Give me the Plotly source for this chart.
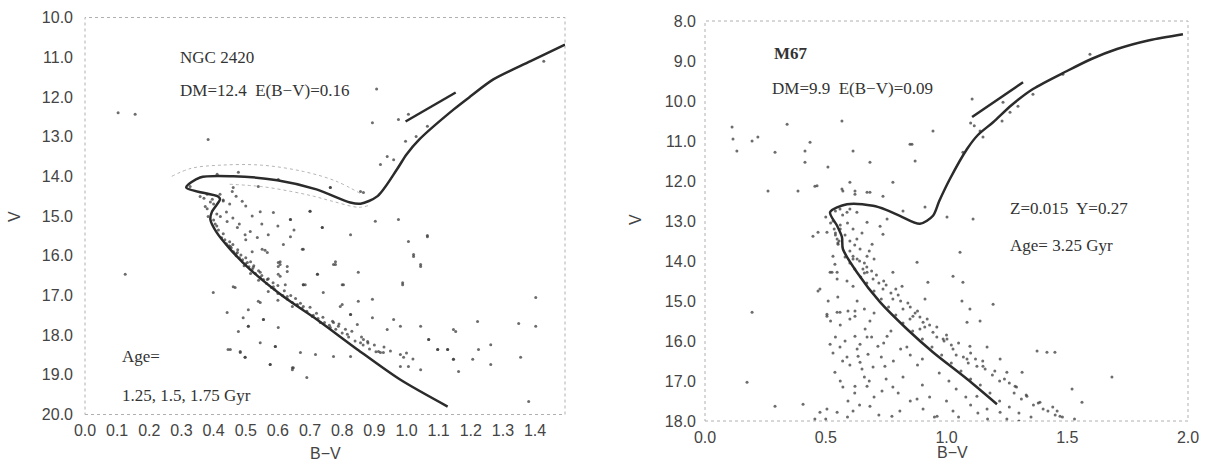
import plotly.graph_objects as go

# ---------------- NGC 2420 ----------------
n_iso_bv = [1.128, 0.98, 0.847, 0.72, 0.617, 0.514, 0.452, 0.41, 0.39, 0.395, 0.42, 0.414,
            0.315, 0.358, 0.461, 0.598, 0.72, 0.825, 0.857, 0.91, 0.97, 1.0, 1.04, 1.146, 1.2, 1.27,
            1.386, 1.493]
n_iso_v = [19.8, 19.12, 18.36, 17.6, 17.03, 16.35, 15.84, 15.42, 15.09, 14.89, 14.58, 14.51,
           14.28, 14.03, 14.0, 14.1, 14.33, 14.66, 14.69, 14.5, 13.83, 13.45, 13.07, 12.32, 11.98, 11.56,
           11.1, 10.68]
n_clump_bv = [0.997, 1.153]
n_clump_v = [12.62, 11.89]
n_up_bv = [0.27, 0.33, 0.42, 0.55, 0.68, 0.78, 0.86]
n_up_v = [14.0, 13.8, 13.72, 13.72, 13.88, 14.12, 14.45]
n_lo_bv = [0.45, 0.55, 0.64, 0.71, 0.77, 0.85, 0.88]
n_lo_v = [14.2, 14.26, 14.38, 14.5, 14.63, 14.78, 14.74]

n_star_bv = [0.103, 0.156, 0.383, 0.907, 0.894, 0.975, 1.006, 1.065, 0.997, 1.03, 0.94, 0.919, 0.96,
             0.763, 0.857, 0.866, 0.70, 0.639, 0.738, 0.903, 0.975, 1.065, 1.427, 0.125,
             0.826, 1.006, 1.065, 1.022, 1.044, 0.988, 0.676, 0.773, 0.85, 0.80, 0.685, 0.741, 0.679,
             0.85, 0.894, 0.794, 0.826, 0.847, 0.773, 0.894, 0.96, 0.94, 0.981, 1.044, 1.069, 0.879,
             0.919, 0.981, 0.991, 1.006, 1.044, 0.981, 1.097, 1.128, 1.146, 1.146, 1.162, 1.206, 1.224,
             1.221, 1.262, 1.262, 1.355, 1.349, 1.402, 1.402, 1.38, 0.67, 0.69, 0.717, 0.648, 0.773, 0.826,
             0.629, 0.66, 0.707, 0.732, 0.763, 0.788, 0.816, 0.857, 0.866, 0.913, 0.928,
             0.399, 0.442, 0.452, 0.477, 0.498, 0.483, 0.545, 0.576, 0.592, 0.555, 0.508, 0.601, 0.645,
             0.601, 0.629, 0.679, 0.601, 0.723, 0.779, 0.80, 0.826, 1.022, 1.044, 0.988, 1.153, 1.097,
             1.128, 1.146, 1.069, 0.467, 0.508, 0.492, 0.555, 0.508, 0.445, 0.483, 0.498, 0.545, 0.592,
             0.576, 0.645, 0.607, 0.539, 0.623, 0.645, 0.52, 0.567,
             0.374, 0.38, 0.383, 0.421, 0.442, 0.461, 0.458, 0.489, 0.545, 0.586, 0.639, 0.70, 0.474,
             0.514, 0.498, 0.536, 0.57, 0.551, 0.56, 0.617, 0.639, 0.679, 0.607, 0.601, 0.629, 0.607,
             0.679, 0.723, 0.779, 0.804, 0.461, 0.738, 0.411, 0.477, 0.601, 0.763, 0.539, 0.327, 0.396,
             0.358, 0.452, 0.474, 0.505, 0.523, 0.545, 0.567, 0.586,
             0.425, 0.44, 0.455, 0.462, 0.47, 0.48, 0.49, 0.50, 0.51, 0.52, 0.53, 0.545, 0.555, 0.565,
             0.58, 0.59, 0.60, 0.615, 0.63, 0.645, 0.66, 0.675, 0.69, 0.71, 0.725, 0.745, 0.76, 0.78,
             0.80, 0.82, 0.84, 0.865, 0.885, 0.905, 0.435, 0.448, 0.47, 0.495, 0.515, 0.54, 0.57, 0.6,
             0.39, 0.40, 0.43, 0.41, 0.405, 0.37, 0.38,
             0.40, 0.41, 0.415, 0.43, 0.45, 0.46, 0.475, 0.485, 0.50, 0.515, 0.525, 0.54, 0.55, 0.57,
             0.585, 0.60, 0.62, 0.64, 0.655, 0.67, 0.70, 0.72, 0.74, 0.77, 0.79, 0.81, 0.83, 0.86, 0.88,
             0.90, 0.93, 0.95, 1.0, 1.02,
             0.42, 0.43, 0.45, 0.47, 0.50, 0.52, 0.55, 0.44, 0.46, 0.48, 0.60, 0.65, 0.50]
n_star_v = [12.4, 12.44, 13.07, 11.8, 12.65, 12.57, 12.44, 12.74, 13.12, 13.0, 13.5, 13.7, 13.58,
            14.28, 14.38, 14.41, 14.88, 15.09, 15.29, 15.13, 15.09, 15.52, 11.1, 16.47,
            15.47, 15.64, 15.49, 15.97, 16.22, 16.73, 15.84, 16.22, 16.42, 16.73, 16.73, 16.93, 17.28,
            17.15, 17.1, 17.28, 17.48, 17.73, 17.68, 17.56, 17.61, 17.86, 17.78, 17.78, 18.11, 18.16,
            18.44, 18.49, 18.56, 18.79, 18.87, 18.79, 18.36, 18.36, 18.61, 17.86, 18.92, 18.61, 18.36,
            17.66, 18.74, 18.24, 18.56, 17.71, 17.78, 17.05, 19.67, 18.44, 19.07, 18.49, 18.82, 18.54, 18.54,
            17.03, 17.23, 17.53, 17.68, 17.81, 17.78, 17.98, 18.19, 18.11, 18.41, 18.44,
            16.93, 17.43, 18.36, 17.91, 18.56, 18.41, 17.18, 18.74, 18.29, 17.61, 17.78, 17.81, 18.82,
            16.17, 16.27, 16.73, 16.47, 16.47, 16.22, 17.23, 17.48, 16.02, 16.27, 16.68, 17.91, 18.36,
            18.36, 18.61, 18.11, 16.8, 17.36, 17.56, 17.61, 17.78, 18.36, 18.44, 18.56, 18.19, 18.29,
            18.74, 18.87, 16.22, 17.15, 16.73, 17.28, 15.9, 15.92,
            14.76, 14.82, 15.01, 15.01, 15.14, 14.28, 14.38, 14.63, 14.89, 14.91, 15.09, 14.88, 15.29,
            15.39, 15.47, 15.54, 15.47, 15.84, 15.86, 15.72, 15.52, 15.84, 16.15, 16.27, 16.4, 16.52,
            16.73, 16.47, 16.15, 16.73, 16.78, 15.29, 13.95, 13.9, 14.08, 14.28, 14.26, 14.26, 14.58,
            14.51, 15.77, 15.92, 16.17, 16.3, 16.42, 16.6, 16.78,
            15.55, 15.7, 15.8, 15.9, 15.95, 16.05, 16.1, 16.2, 16.28, 16.35, 16.45, 16.55, 16.6, 16.7,
            16.8, 16.85, 16.95, 17.0, 17.1, 17.18, 17.25, 17.33, 17.4, 17.5, 17.58, 17.68, 17.75, 17.85,
            17.95, 18.05, 18.15, 18.25, 18.35, 18.42, 15.6, 15.75, 16.0, 16.25, 16.45, 16.62, 16.9, 17.12,
            14.65, 14.7, 14.62, 14.95, 15.2, 14.55, 14.45,
            15.1, 15.25, 15.35, 15.45, 15.65, 15.72, 15.85, 15.98, 16.05, 16.15, 16.25, 16.38, 16.5, 16.58,
            16.68, 16.75, 16.88, 17.0, 17.08, 17.2, 17.3, 17.45, 17.55, 17.65, 17.72, 17.85, 17.9, 18.05, 18.2,
            18.25, 18.3, 18.4, 18.45, 18.6,
            14.45, 14.6, 14.7, 14.5, 14.75, 15.0, 15.2, 14.9, 15.05, 15.2, 15.25, 15.35, 15.6]

# ---------------- M67 ----------------
m_iso_bv = [1.209, 1.085, 0.944, 0.836, 0.725, 0.629, 0.571, 0.567, 0.547, 0.518, 0.588, 0.696,
            0.75, 0.807, 0.89, 0.944, 0.97, 1.014, 1.085, 1.13, 1.193, 1.27, 1.358, 1.499, 1.6, 1.706,
            1.84, 1.979]
m_iso_v = [17.58, 16.95, 16.28, 15.7, 15.03, 14.28, 13.7, 13.4, 13.12, 12.78, 12.58, 12.62,
           12.72, 12.87, 13.07, 12.87, 12.5, 11.95, 11.2, 10.85, 10.53, 10.1, 9.7, 9.25, 8.95, 8.7,
           8.48, 8.33]
m_clump_bv = [1.106, 1.317]
m_clump_v = [10.4, 9.53]

m_star_bv = [0.112, 0.116, 0.132, 0.195, 0.219, 0.29, 0.34, 0.435, 0.414, 0.414, 0.567, 0.613, 0.683,
             0.509, 0.261, 0.385, 0.464, 0.567, 0.60, 0.621, 0.671, 0.737, 0.778, 0.82, 0.754, 0.849,
             1.106, 0.944, 0.857, 0.87, 0.911, 1.002, 1.11, 1.139, 1.151, 1.234, 1.296, 1.263, 1.23,
             1.358, 1.594, 1.482, 1.068, 1.10, 1.115,
             0.174, 0.29, 0.406, 0.195, 0.455, 0.476, 0.505, 0.547, 0.468, 0.447, 0.518, 0.547, 0.588,
             0.505, 0.559, 0.621, 0.518, 0.559, 0.588, 0.538, 0.571, 0.621, 0.592, 0.613, 0.65, 0.634,
             0.675, 0.642, 0.671, 0.696, 0.745, 0.733, 0.778, 0.716, 0.754, 0.671, 0.663, 0.683, 0.642,
             0.621, 0.683, 0.774, 0.807, 0.737, 0.778, 0.816, 0.836,
             0.613, 0.654, 0.696, 0.737, 0.778, 0.82, 0.861, 0.903, 0.944, 0.986, 1.027, 1.085, 1.126,
             0.63, 0.67, 0.71, 0.75, 0.80, 0.84, 0.88, 0.92, 0.96, 1.0, 1.05, 1.10, 1.15, 1.20, 1.24,
             1.29, 1.33, 1.38, 1.42, 1.45,
             0.58, 0.60, 0.62, 0.645, 0.67, 0.70, 0.73, 0.76, 0.79, 0.82, 0.86, 0.90, 0.94, 0.98, 1.02,
             1.06, 1.10, 1.14, 1.18, 1.22, 1.26, 1.30, 1.35,
             0.849, 0.89, 1.027, 1.068, 1.193, 1.002, 1.097, 1.151, 1.222, 1.25, 1.284, 1.313, 1.333,
             1.375, 1.416, 1.449, 1.387, 1.458, 1.47, 1.52, 1.561, 1.685, 1.126, 1.168, 1.222, 1.027,
             0.961, 0.878, 0.903, 1.056, 0.878, 0.923, 0.911, 1.064, 1.097, 1.139, 1.168, 1.085,
             0.505, 0.468, 0.547, 0.551, 0.613, 0.629, 0.642, 0.671, 0.613, 0.588, 0.60, 0.629, 0.559,
             0.53, 0.538, 0.526, 0.547, 0.571, 0.621, 0.683, 0.671, 0.725, 0.692, 0.671, 0.613, 0.455,
             0.476, 0.505, 0.547, 0.592, 0.621, 0.53, 0.535, 0.56, 0.55, 0.54,
             0.52, 0.56, 0.60, 0.54, 0.58, 0.63, 0.57, 0.60, 0.66, 0.56, 0.62, 0.70, 0.68, 0.73, 0.75,
             0.78, 0.80, 0.82, 0.85, 0.88, 0.90, 0.93, 0.95, 1.0, 1.05, 1.10, 0.72, 0.64, 0.59, 0.50,
             0.53, 0.51, 0.55, 0.63, 0.66, 0.70, 0.69, 0.74, 0.77, 0.81, 0.85, 0.90, 0.97, 1.01, 1.04,
             1.08, 1.13, 1.17, 1.25, 1.30,
             0.60, 0.64, 0.66, 0.69, 0.72, 0.74, 0.77, 0.79, 0.81, 0.85, 0.87, 0.89, 0.91, 0.93, 0.96,
             0.99, 1.02, 1.04, 1.07, 1.09, 1.12, 1.16, 1.19, 1.22, 1.26, 1.28, 1.31, 1.36, 1.40, 1.44,
             1.48, 1.53,
             0.50, 0.52, 0.54, 0.555, 0.56, 0.58, 0.60, 0.62, 0.59, 0.57, 0.54, 0.65, 0.68, 0.70, 0.66]
m_star_v = [10.65, 10.95, 11.25, 11.0, 10.9, 11.28, 10.58, 11.03, 11.25, 11.53, 10.5, 11.25, 11.53,
            11.65, 12.25, 12.25, 12.12, 12.2, 12.03, 12.25, 12.28, 12.38, 12.03, 12.75, 12.95, 11.08,
            9.95, 10.75, 11.08, 11.5, 12.65, 12.9, 12.95, 10.75, 10.9, 10.03, 10.13, 10.28, 10.5,
            9.83, 8.83, 9.33, 11.28, 10.55, 10.62,
            17.03, 17.63, 17.58, 15.28, 17.95, 17.78, 17.7, 17.78, 14.75, 13.38, 14.28, 14.28, 14.5,
            15.33, 15.28, 15.25, 16.08, 16.15, 16.4, 16.78, 17.15, 17.13, 17.5, 17.75, 16.7, 16.38,
            16.33, 16.53, 17.13, 16.65, 16.63, 17.25, 17.15, 16.13, 15.88, 15.9, 15.7, 15.5, 16.08,
            15.88, 17.63, 17.88, 17.75, 13.33, 14.28, 14.63, 16.15,
            13.88, 14.2, 14.45, 14.7, 14.95, 15.2, 15.38, 15.53, 15.78, 15.95, 16.2, 16.45, 16.63,
            13.95, 14.15, 14.35, 14.6, 14.85, 15.05, 15.25, 15.45, 15.65, 15.85, 16.05, 16.3, 16.5,
            16.75, 16.95, 17.15, 17.35, 17.55, 17.75, 17.85,
            13.9, 14.05, 14.2, 14.4, 14.55, 14.75, 14.95, 15.15, 15.35, 15.55, 15.75, 15.95, 16.15,
            16.35, 16.55, 16.75, 16.95, 17.1, 17.3, 17.5, 17.65, 17.8, 17.9,
            15.45, 15.7, 14.38, 14.53, 15.08, 15.95, 16.13, 16.63, 16.45, 16.78, 17.13, 16.78, 17.38,
            16.25, 16.28, 16.28, 17.53, 17.75, 17.88, 17.2, 17.53, 16.9, 17.38, 17.7, 17.78, 17.75,
            17.88, 17.45, 17.7, 13.78, 14.03, 14.53, 14.95, 15.0, 15.2, 15.5, 16.15, 15.53,
            13.28, 13.28, 13.45, 13.58, 13.2, 13.45, 13.7, 13.88, 13.95, 12.78, 12.7, 12.78, 12.7,
            13.88, 14.08, 14.28, 14.45, 12.25, 12.33, 12.28, 13.03, 13.13, 13.58, 14.28, 14.63, 12.13,
            14.7, 15.38, 15.28, 15.25, 15.38, 13.0, 13.2, 13.1, 13.55, 13.35,
            15.5, 15.6, 15.45, 15.9, 16.0, 16.2, 16.5, 16.6, 16.9, 17.0, 17.3, 17.4, 17.0, 16.4, 16.95,
            16.5, 17.3, 16.9, 17.5, 16.6, 17.1, 17.4, 17.9, 17.5, 17.9, 17.6, 17.85, 17.6, 17.9, 17.95,
            16.3, 15.0, 14.9, 15.0, 15.2, 15.3, 15.9, 16.05, 15.75, 16.2, 16.35, 16.45, 16.8, 17.0, 17.2,
            17.4, 17.8, 17.95, 17.95, 18.0,
            13.75, 14.0, 14.3, 14.25, 14.55, 14.5, 14.8, 14.7, 15.0, 15.15, 15.3, 15.4, 15.65, 15.6, 15.9,
            16.0, 16.1, 16.35, 16.4, 16.55, 16.45, 16.7, 16.85, 17.0, 17.05, 17.3, 17.45, 17.6, 17.7, 17.65,
            17.9, 17.95,
            12.9, 13.05, 13.3, 13.5, 13.2, 13.35, 13.5, 13.6, 13.05, 12.85, 12.75, 13.3, 13.75, 13.95, 14.05]

# ---------------- text ----------------
n_tick_x = [0.0, 0.1, 0.2, 0.3, 0.4, 0.5, 0.6, 0.7, 0.8, 0.9, 1.0, 1.1, 1.2, 1.3, 1.4]
n_tick_y = [10, 11, 12, 13, 14, 15, 16, 17, 18, 19, 20]
m_tick_x = [0.0, 0.5, 1.0, 1.5, 2.0]
m_tick_y = [8, 9, 10, 11, 12, 13, 14, 15, 16, 17, 18]

n_labels = ["NGC 2420", "DM=12.4  E(B−V)=0.16", "Age=", "1.25, 1.5, 1.75 Gyr"]
n_label_x = [0.289, 0.289, 0.109, 0.109]
n_label_y = [11.0, 11.85, 18.54, 19.51]
m_labels = ["<b>M67</b>", "DM=9.9  E(B−V)=0.09", "Z=0.015  Y=0.27", "Age= 3.25 Gyr"]
m_label_x = [0.277, 0.269, 1.255, 1.255]
m_label_y = [8.81, 9.68, 12.68, 13.6]

LINE = "#2b2b2b"
DOT = "rgba(60,60,60,0.75)"
TXT = "#333333"
SERIF = "Liberation Serif, Times New Roman, serif"
SANS = "Liberation Sans, Arial, sans-serif"

fig = go.Figure()
fig.add_trace(go.Scatter(x=n_star_bv, y=n_star_v, mode="markers", xaxis="x", yaxis="y",
                         marker=dict(size=3, color=DOT), hoverinfo="skip"))
fig.add_trace(go.Scatter(x=n_up_bv, y=n_up_v, mode="lines", xaxis="x", yaxis="y",
                         line=dict(color="#b5b5b5", width=1, dash="dot", shape="spline")))
fig.add_trace(go.Scatter(x=n_lo_bv, y=n_lo_v, mode="lines", xaxis="x", yaxis="y",
                         line=dict(color="#b5b5b5", width=1, dash="dot", shape="spline")))
fig.add_trace(go.Scatter(x=n_iso_bv, y=n_iso_v, mode="lines", xaxis="x", yaxis="y",
                         line=dict(color=LINE, width=2.5, shape="spline", smoothing=0.8)))
fig.add_trace(go.Scatter(x=n_clump_bv, y=n_clump_v, mode="lines", xaxis="x", yaxis="y",
                         line=dict(color=LINE, width=2.5)))

fig.add_trace(go.Scatter(x=m_star_bv, y=m_star_v, mode="markers", xaxis="x2", yaxis="y2",
                         marker=dict(size=3, color=DOT), hoverinfo="skip"))
fig.add_trace(go.Scatter(x=m_iso_bv, y=m_iso_v, mode="lines", xaxis="x2", yaxis="y2",
                         line=dict(color=LINE, width=2.5, shape="spline", smoothing=0.8)))
fig.add_trace(go.Scatter(x=m_clump_bv, y=m_clump_v, mode="lines", xaxis="x2", yaxis="y2",
                         line=dict(color=LINE, width=2.5)))

tickfont = dict(family=SANS, size=16, color="#444444")
common = dict(showgrid=False, zeroline=False, showline=False, ticks="", automargin=False,
              tickfont=tickfont, tickformat=".1f")

fig.update_layout(
    width=1211, height=467, margin=dict(l=0, r=0, t=0, b=0),
    paper_bgcolor="white", plot_bgcolor="white", showlegend=False,
    xaxis=dict(domain=[85/1211, 565/1211], range=[0, 1.493], tickvals=n_tick_x,
               anchor="y", ticklabelstandoff=4, **common),
    yaxis=dict(domain=[1-414.5/467, 1-17.5/467], range=[20, 10], tickvals=n_tick_y,
               anchor="x", ticklabelstandoff=11, **common),
    xaxis2=dict(domain=[705/1211, 1188/1211], range=[0, 2.0], tickvals=m_tick_x,
                anchor="y2", ticklabelstandoff=5, **common),
    yaxis2=dict(domain=[1-421/467, 1-21/467], range=[18, 8], tickvals=m_tick_y,
                anchor="x2", ticklabelstandoff=8, **common),
)

for xr, yr in (("x", "y"), ("x2", "y2")):
    fig.add_shape(type="rect", xref=xr + " domain", yref=yr + " domain", x0=0, x1=1, y0=0, y1=1,
                  line=dict(color="#b0b0b0", width=1, dash="dot"), layer="below")

for t, x, y in zip(n_labels, n_label_x, n_label_y):
    fig.add_annotation(text=t, x=x, y=y, xref="x", yref="y", xanchor="left", yanchor="middle",
                       showarrow=False, font=dict(family=SERIF, size=17, color=TXT))
for t, x, y in zip(m_labels, m_label_x, m_label_y):
    fig.add_annotation(text=t, x=x, y=y, xref="x2", yref="y2", xanchor="left", yanchor="middle",
                       showarrow=False, font=dict(family=SERIF, size=17, color=TXT))

axis_font = dict(family=SANS, size=16, color="#444444")
for t, x, y, ang in (("B−V", 325, 453, 0), ("B−V", 952, 452, 0), ("V", 15, 217, -90), ("V", 635, 220, -90)):
    fig.add_annotation(text=t, x=x/1211, y=1-y/467, xref="paper", yref="paper", xanchor="center",
                       yanchor="middle", showarrow=False, textangle=ang, font=axis_font)

fig.write_html("out.html")
